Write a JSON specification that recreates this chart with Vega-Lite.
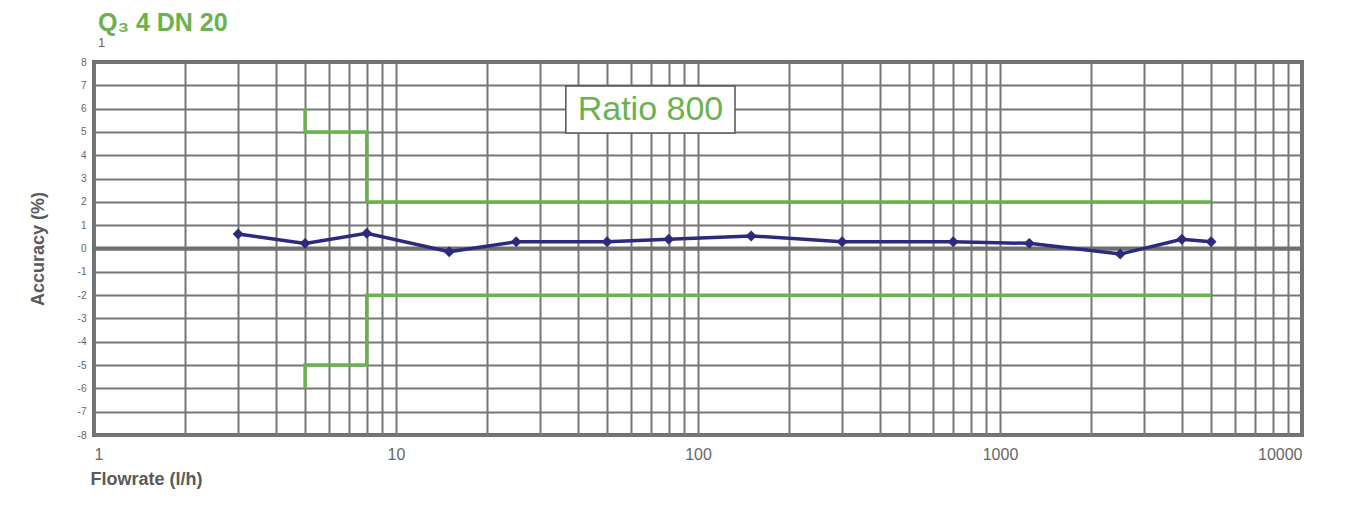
{
  "$schema": "https://vega.github.io/schema/vega-lite/v6.json",
  "width": 1208,
  "height": 373,
  "autosize": {"type": "none"},
  "padding": {"left": 94, "top": 62, "right": 48, "bottom": 72},
  "background": "white",
  "title": {
    "text": "Q₃ 4 DN 20",
    "subtitle": " 1",
    "anchor": "start",
    "frame": "group",
    "font": "Liberation Sans",
    "fontSize": 25,
    "fontWeight": "bold",
    "color": "#6ab24e",
    "subtitleFont": "Liberation Sans",
    "subtitleFontSize": 13,
    "subtitleColor": "#666666",
    "subtitlePadding": 1,
    "offset": 7,
    "dx": 4
  },
  "datasets": {
    "meas": [
      {"flow": 3, "acc": 0.62},
      {"flow": 5, "acc": 0.22},
      {"flow": 8, "acc": 0.65},
      {"flow": 15, "acc": -0.14},
      {"flow": 25, "acc": 0.29},
      {"flow": 50, "acc": 0.29},
      {"flow": 80, "acc": 0.4},
      {"flow": 150, "acc": 0.54},
      {"flow": 300, "acc": 0.29},
      {"flow": 700, "acc": 0.29},
      {"flow": 1250, "acc": 0.22},
      {"flow": 2500, "acc": -0.24},
      {"flow": 4000, "acc": 0.4},
      {"flow": 5000, "acc": 0.29}
    ],
    "zero": [
      {"flow": 1, "acc": 0},
      {"flow": 10000, "acc": 0}
    ],
    "limits": [
      {"series": "upper", "i": 1, "flow": 5, "acc": 6},
      {"series": "upper", "i": 2, "flow": 5, "acc": 5},
      {"series": "upper", "i": 3, "flow": 8, "acc": 5},
      {"series": "upper", "i": 4, "flow": 8, "acc": 2},
      {"series": "upper", "i": 5, "flow": 5000, "acc": 2},
      {"series": "lower", "i": 1, "flow": 5, "acc": -6},
      {"series": "lower", "i": 2, "flow": 5, "acc": -5},
      {"series": "lower", "i": 3, "flow": 8, "acc": -5},
      {"series": "lower", "i": 4, "flow": 8, "acc": -2},
      {"series": "lower", "i": 5, "flow": 5000, "acc": -2}
    ],
    "box": [
      {"flow": 36.5, "flow2": 132.6, "acc": 6.97, "acc2": 4.955}
    ],
    "label": [
      {"flow": 69.6, "acc": 5.96, "label": "Ratio 800"}
    ]
  },
  "config": {
    "font": "Liberation Sans",
    "view": {"stroke": "#6f6f6f", "strokeWidth": 4}
  },
  "encoding": {
    "x": {
      "field": "flow",
      "type": "quantitative",
      "scale": {"type": "log", "domain": [1, 10000], "nice": false},
      "axis": {
        "values": [1,2,3,4,5,6,7,8,9,10,20,30,40,50,60,70,80,90,100,200,300,400,500,600,700,800,900,1000,2000,3000,4000,5000,6000,7000,8000,9000,10000],
        "format": "d",
        "labelExpr": "indexof(['1','10','100','1000','10000'], datum.label) >= 0 ? datum.label : ''",
        "labelFlush": true,
        "labelOverlap": false,
        "labelFontSize": 16,
        "labelColor": "#666666",
        "labelPadding": 11,
        "ticks": false,
        "domain": false,
        "grid": true,
        "gridColor": "#777777",
        "gridWidth": 2,
        "gridOpacity": 1,
        "title": "Flowrate (l/h)",
        "titleFontSize": 18,
        "titleFontWeight": "bold",
        "titleColor": "#5a5a5a",
        "titleAnchor": "start",
        "titleAlign": "left",
        "titleBaseline": "alphabetic",
        "titleX": -4,
        "titleY": 49
      }
    },
    "y": {
      "field": "acc",
      "type": "quantitative",
      "scale": {"domain": [-8, 8], "nice": false},
      "axis": {
        "values": [-8,-7,-6,-5,-4,-3,-2,-1,0,1,2,3,4,5,6,7,8],
        "format": "d",
        "labelExpr": "replace(datum.label, '−', '-')",
        "labelOverlap": false,
        "labelFontSize": 10,
        "labelColor": "#666666",
        "labelPadding": 8,
        "ticks": false,
        "domain": false,
        "grid": true,
        "gridColor": "#777777",
        "gridWidth": 2,
        "gridOpacity": 1,
        "title": "Accuracy (%)",
        "titleFontSize": 18,
        "titleFontWeight": "bold",
        "titleColor": "#5a5a5a",
        "titleBaseline": "alphabetic",
        "titleAlign": "center",
        "titleAngle": -90,
        "titleX": -51,
        "titleY": 186.5
      }
    }
  },
  "layer": [
    {
      "data": {"name": "zero"},
      "mark": {"type": "line", "color": "#6f6f6f", "strokeWidth": 4}
    },
    {
      "data": {"name": "limits"},
      "mark": {"type": "line", "color": "#6ab24e", "strokeWidth": 3.5, "strokeCap": "butt"},
      "encoding": {
        "detail": {"field": "series"},
        "order": {"field": "i"}
      }
    },
    {
      "data": {"name": "meas"},
      "mark": {"type": "line", "color": "#2b2a7e", "strokeWidth": 3.5, "point": {"shape": "diamond", "filled": true, "size": 120, "color": "#2b2a7e"}}
    },
    {
      "data": {"name": "box"},
      "mark": {"type": "rect", "fill": "white", "stroke": "#555555", "strokeWidth": 1.5},
      "encoding": {
        "x2": {"field": "flow2"},
        "y2": {"field": "acc2"}
      }
    },
    {
      "data": {"name": "label"},
      "mark": {"type": "text", "color": "#6ab24e", "fontSize": 34, "align": "center", "baseline": "middle", "font": "Liberation Sans"},
      "encoding": {
        "text": {"field": "label"}
      }
    }
  ]
}
